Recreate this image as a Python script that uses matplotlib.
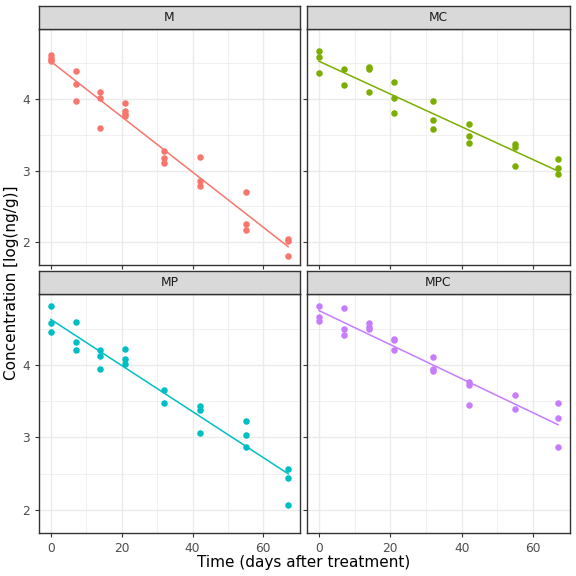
import numpy as np
import matplotlib
matplotlib.use("Agg")
import matplotlib.pyplot as plt

# Données
GROUPS = ["M", "MC", "MP", "MPC"]
COLORS = ["#F8766D", "#7CAE00", "#00BFC4", "#C77CFF"]

days_M = [0, 0, 0, 0, 7, 7, 7, 14, 14, 14, 21, 21, 21, 21, 32, 32, 32, 42, 42, 42, 55, 55, 55, 67, 67, 67]
conc_M = [4.62, 4.58, 4.53, 4.55, 4.39, 4.21, 3.97, 4.10, 4.02, 3.59, 3.94, 3.83, 3.79, 3.76,
          3.28, 3.18, 3.10, 3.19, 2.86, 2.78, 2.70, 2.25, 2.17, 2.04, 2.02, 1.81]

days_MC = [0, 0, 0, 7, 7, 14, 14, 14, 21, 21, 21, 32, 32, 32, 42, 42, 42, 55, 55, 55, 67, 67, 67]
conc_MC = [4.67, 4.59, 4.36, 4.42, 4.20, 4.45, 4.42, 4.10, 4.24, 4.01, 3.80, 3.97, 3.71, 3.58,
           3.65, 3.49, 3.39, 3.37, 3.33, 3.06, 3.16, 3.04, 2.95]

days_MP = [0, 0, 0, 7, 7, 7, 14, 14, 14, 21, 21, 21, 32, 32, 42, 42, 42, 55, 55, 55, 67, 67, 67]
conc_MP = [4.82, 4.58, 4.45, 4.60, 4.32, 4.21, 4.21, 4.12, 3.94, 4.22, 4.08, 4.01, 3.66, 3.48,
           3.43, 3.38, 3.06, 3.23, 3.04, 2.87, 2.56, 2.44, 2.06]

days_MPC = [0, 0, 0, 7, 7, 7, 14, 14, 14, 21, 21, 21, 32, 32, 32, 42, 42, 42, 55, 55, 67, 67, 67]
conc_MPC = [4.81, 4.66, 4.61, 4.79, 4.50, 4.41, 4.58, 4.53, 4.50, 4.36, 4.34, 4.20, 4.11, 3.95, 3.92,
            3.76, 3.72, 3.45, 3.58, 3.39, 3.47, 3.27, 2.87]

DATA = [(days_M, conc_M), (days_MC, conc_MC), (days_MP, conc_MP), (days_MPC, conc_MPC)]

W = H = 576
fig = plt.figure(figsize=(5.76, 5.76), dpi=100)

# positions des panneaux en pixels
cols = [(39, 300), (307, 570)]
rows = [(6, 29, 265), (271, 294, 533)]

for i, (g, col, (d, c)) in enumerate(zip(GROUPS, COLORS, DATA)):
    x0, x1 = cols[i % 2]
    ys, yp, yb = rows[i // 2]
    ax = fig.add_axes([x0 / W, 1 - yb / H, (x1 - x0) / W, (yb - yp) / H])
    ax.set_xlim(-3.35, 70.35)
    ax.set_ylim(1.68, 4.98)
    ax.set_xticks([0, 20, 40, 60])
    ax.set_xticks([10, 30, 50], minor=True)
    ax.set_yticks([2, 3, 4])
    ax.set_yticks([2.5, 3.5, 4.5], minor=True)
    ax.grid(True, which="major", color="#EBEBEB", lw=1.0)
    ax.grid(True, which="minor", color="#EBEBEB", lw=0.5)
    ax.set_axisbelow(True)
    for s in ax.spines.values():
        s.set_color("#333333")
        s.set_linewidth(1.0)
    ax.tick_params(colors="#333333", labelcolor="#4D4D4D", labelsize=8.8, length=3)
    ax.tick_params(which="minor", length=0)
    if i % 2 == 1:
        ax.tick_params(labelleft=False)
    if i // 2 == 0:
        ax.tick_params(labelbottom=False)

    d = np.array(d, float)
    c = np.array(c, float)
    ax.scatter(d, c, s=22, color=col, zorder=3, linewidths=0)
    k, b = np.polyfit(d, c, 1)
    xs = np.array([d.min(), d.max()])
    ax.plot(xs, k * xs + b, color=col, lw=1.1, zorder=2)

    sax = fig.add_axes([x0 / W, 1 - yp / H, (x1 - x0) / W, (yp - ys) / H])
    sax.set_xticks([]); sax.set_yticks([])
    sax.set_facecolor("#D9D9D9")
    for s in sax.spines.values():
        s.set_color("#333333")
        s.set_linewidth(1.0)
    sax.text(0.5, 0.5, g, ha="center", va="center", fontsize=8.8, color="#1A1A1A",
             transform=sax.transAxes)

fig.text(304 / W, 1 - 562 / H, "Time (days after treatment)", ha="center", va="center", fontsize=11)
fig.text(12 / W, 1 - 283 / H, "Concentration [log(ng/g)]", ha="center", va="center",
         rotation=90, fontsize=11)

fig.savefig("out.png", dpi=100)
